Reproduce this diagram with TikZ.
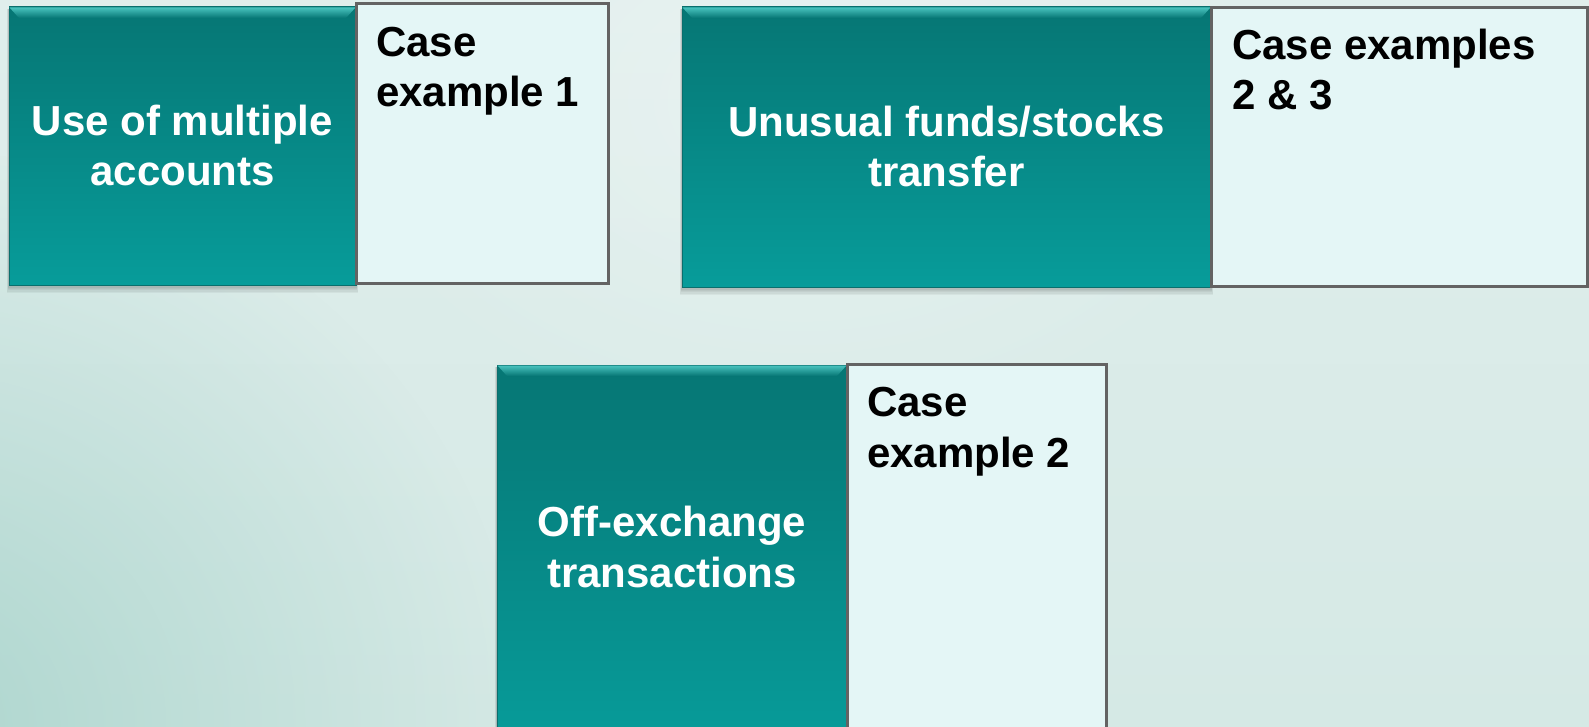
\documentclass[tikz,border=0pt]{standalone}
\usepackage{fontspec}
\setmainfont{Liberation Sans}
\usetikzlibrary{fadings}

\definecolor{bgtop}{HTML}{E0EEEC}
\definecolor{bgbot}{HTML}{D5E9E5}
\definecolor{bgleft}{HTML}{A9D4CC}
\definecolor{tealtop}{HTML}{067674}
\definecolor{tealbot}{HTML}{079C9A}
\definecolor{tealedge}{HTML}{0A6F6D}
\definecolor{bevel}{HTML}{48C2BE}
\definecolor{paper}{HTML}{E4F6F6}
\definecolor{frame}{HTML}{636363}

\tikzfading[name=cornerfade, inner color=transparent!0, outer color=transparent!100]

\tikzset{
  label font/.style={font=\fontsize{42}{50.5}\selectfont\bfseries},
  tealbox/.style={rectangle, anchor=north west, inner sep=0pt, outer sep=0pt,
    top color=tealtop, bottom color=tealbot, draw=tealedge, line width=1pt},
  casebox/.style={rectangle, anchor=north west, inner sep=0pt, outer sep=0pt,
    fill=paper, draw=frame, line width=3pt},
  topic/.style={label font, text=white, align=center, anchor=base, inner sep=0pt},
  cases/.style={label font, text=black, align=left, anchor=base west, inner sep=0pt},
  ghost/.style={rectangle, anchor=north west, inner sep=0pt, outer sep=0pt},
}

% soft shadow under a teal box
\newcommand{\boxdecor}[1]{%
  \foreach \k in {1,...,6}{
    \fill[black, opacity=0.045]
      ([xshift=-\k*0.35pt, yshift=-\k*1.3pt]#1.south west) rectangle
      ([xshift=\k*0.35pt, yshift=-2pt]#1.north east);
  }
}
% bevelled top edge of a teal box
\newcommand{\bevelcap}[1]{%
  \shade[top color=bevel, bottom color=tealtop]
    ([xshift=0.5pt,yshift=-0.5pt]#1.north west) --
    ([xshift=-0.5pt,yshift=-0.5pt]#1.north east) --
    ([xshift=-10pt,yshift=-11pt]#1.north east) --
    ([xshift=10pt,yshift=-11pt]#1.north west) -- cycle;
}

\begin{document}
\begin{tikzpicture}[x=1pt, y=-1pt]
  \useasboundingbox (0,0) rectangle (1589,727);
  \begin{scope}
    \clip (0,0) rectangle (1589,727);

    % backdrop
    \shade[top color=bgtop, bottom color=bgbot] (0,0) rectangle (1589,727);
    \fill[bgleft, path fading=cornerfade, opacity=0.9]
      (-700,150) rectangle (520,1300);
    \fill[white, path fading=cornerfade, opacity=0.3]
      (300,-250) rectangle (1300,450);

    % shadows (drawn first so the boxes sit on top)
    \node[ghost, minimum width=347pt, minimum height=278pt] (s1) at (9,7) {};
    \node[ghost, minimum width=529pt, minimum height=280pt] (s2) at (682,7) {};
    \node[ghost, minimum width=350pt, minimum height=380pt] (s3) at (497,365) {};
    \boxdecor{s1}
    \boxdecor{s2}
    \boxdecor{s3}

    % topic boxes
    \node[tealbox, minimum width=347pt, minimum height=278pt] (t1) at (9,7) {};
    \node[tealbox, minimum width=529pt, minimum height=280pt] (t2) at (682,7) {};
    \node[tealbox, minimum width=350pt, minimum height=380pt] (t3) at (497,365) {};
    \bevelcap{t1}
    \bevelcap{t2}
    \bevelcap{t3}

    % case boxes
    \node[casebox, minimum width=252pt, minimum height=279pt] (c1) at (356,4) {};
    \node[casebox, minimum width=376pt, minimum height=278pt] (c2) at (1211,8) {};
    \node[casebox, minimum width=259pt, minimum height=380pt] (c3) at (847,364) {};

    % texts (base anchor = baseline of the last line)
    \node[topic] (l1) at (182.5,186) {Use of multiple\\accounts};
    \node[topic] (l2) at (946.5,187) {Unusual funds/stocks\\transfer};
    \node[topic] (l3) at (672,587) {Off-exchange\\transactions};

    \node[cases] (e1) at (376,107) {Case\\example 1};
    \node[cases] (e2) at (1232,110) {Case examples\\2 \& 3};
    \node[cases] (e3) at (867,467) {Case\\example 2};
  \end{scope}
\end{tikzpicture}
\end{document}
